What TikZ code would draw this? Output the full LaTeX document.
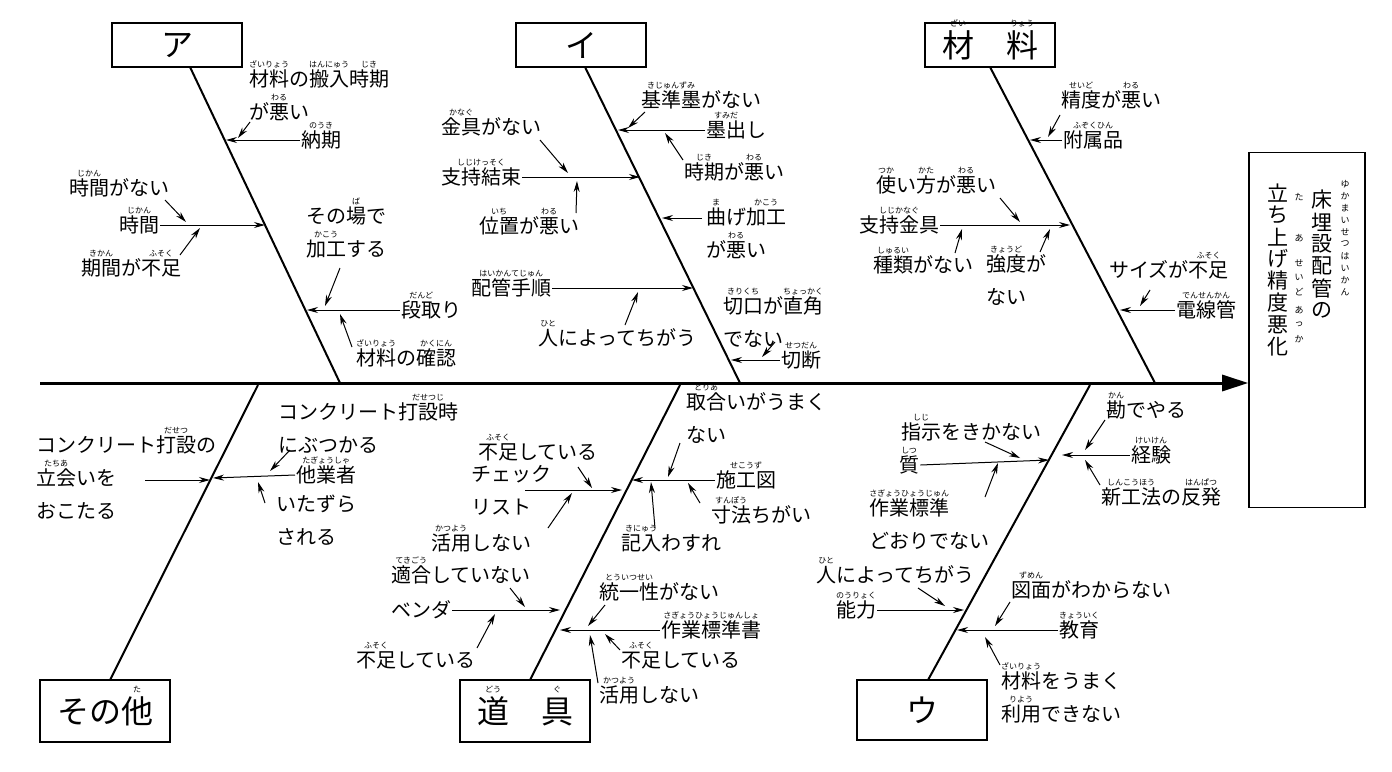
\documentclass[tikz,border=0pt]{standalone}
\usepackage{fontspec}
\setmainfont{Noto Sans CJK JP}
\usetikzlibrary{arrows.meta}
\newcommand\rubyfont{\fontsize{8}{8}\selectfont}
\newcommand\furi[2]{\leavevmode\setbox0\hbox{#1}\hbox to\wd0{\hss\smash{\raisebox{0.95em}{\rubyfont #2}}\hss}\kern-\wd0\box0}
\begin{document}
\begin{tikzpicture}[x=1pt,y=-1pt,
    lbl/.style={font=\fontsize{20}{33}\selectfont,inner sep=1pt,align=left,anchor=west},
    cat/.style={draw,line width=1.6pt,minimum width=130pt,minimum height=44pt,font=\fontsize{32}{34}\selectfont},
    bone/.style={line width=2pt},
    sub/.style={-{Stealth[length=11pt,width=6pt]},line width=1pt},
    chr/.style={font=\fontsize{21}{21}\selectfont,inner sep=0pt},
    rch/.style={font=\fontsize{9}{9}\selectfont,inner sep=0pt}]
\useasboundingbox (0,0) rectangle (1392,771);

% Effect and spine
\node[draw,line width=1.6pt,minimum width=116pt,minimum height=355pt] (effect) at (1307,330) {};
\foreach \c [count=\i] in {床,埋,設,配,管,の}
    \node[chr] (r\i) at (1322,178+\i*22) {\c};
\foreach \c [count=\i] in {立,ち,上,げ,精,度,悪,化}
    \node[chr] (l\i) at (1278,171+\i*22) {\c};
\foreach \c [count=\i] in {ゆ,か,ま,い,せ,つ,は,い,か,ん}
    \node[rch] at (1345,172+\i*12) {\c};
\foreach \c/\y in {た/197,あ/238,せ/263,い/277,ど/292,あ/310,っ/324,か/339}
    \node[rch] at (1299,\y) {\c};
\coordinate (tail) at (40,383);
\draw[line width=3pt,-{Triangle[length=26pt,width=16pt]}] (tail) -- (effect.west |- tail);

% Categories
\node[cat] (A) at (177,45) {ア};
\node[cat] (I) at (581,45) {イ};
\node[cat] (M) at (990,45) {\furi{材}{ざい}\quad\furi{料}{りょう}};
\node[cat,minimum height=62pt] (O) at (105,711) {その\furi{他}{た}};
\node[cat,minimum height=62pt] (D) at (525,711) {\furi{道}{どう}\quad\furi{具}{ぐ}};
\node[cat,minimum height=60pt] (U) at (922,710) {ウ};
\coordinate (aE) at (340,383);
\coordinate (iE) at (740,383);
\coordinate (mE) at (1155,383);
\coordinate (oE) at (258,385);
\coordinate (dE) at (680,385);
\coordinate (uE) at (1090,385);
\draw[bone] (190,67) -- (aE);
\draw[bone] (585,67) -- (iE);
\draw[bone] (990,67) -- (mE);
\draw[bone] (110,680) -- (oE);
\draw[bone] (530,680) -- (dE);
\draw[bone] (928,680) -- (uE);

% Group A
\node[lbl] (aL1) at (248,95) {\furi{材料}{ざいりょう}の\furi{搬入}{はんにゅう}\furi{時期}{じき}\\が\furi{悪}{わる}い};
\node[lbl] (aL2) at (300,140) {\furi{納期}{のうき}};
\node[lbl] (aL3) at (68,188) {\furi{時間}{じかん}がない};
\node[lbl] (aL4) at (118,225) {\furi{時間}{じかん}};
\node[lbl] (aL5) at (80,268) {\furi{期間}{きかん}が\furi{不足}{ふそく}};
\node[lbl] (aL6) at (305,232) {その\furi{場}{ば}で\\\furi{加工}{かこう}する};
\node[lbl] (aL7) at (400,310) {\furi{段取}{だんど}り};
\node[lbl] (aL8) at (355,358) {\furi{材料}{ざいりょう}の\furi{確認}{かくにん}};
\draw[sub] (aL2.west) -- (226,140);
\draw[sub] (250,122) -- (238,138);
\draw[sub] (aL4.east) -- (265,225);
\draw[sub] (165,200) -- (186,222);
\draw[sub] (180,255) -- (200,228);
\draw[sub] (aL7.west) -- (307,310);
\draw[sub] (340,268) -- (325,306);
\draw[sub] (352,347) -- (340,314);

% Group I
\node[lbl] (iL1) at (640,100) {\furi{基準墨}{きじゅんずみ}がない};
\node[lbl] (iL2) at (705,130) {\furi{墨出}{すみだ}し};
\node[lbl] (iL3) at (683,172) {\furi{時期}{じき}が\furi{悪}{わる}い};
\node[lbl] (iL4) at (440,127) {\furi{金具}{かなぐ}がない};
\node[lbl] (iL5) at (440,177) {\furi{支持結束}{しじけっそく}};
\node[lbl] (iL6) at (478,226) {\furi{位置}{いち}が\furi{悪}{わる}い};
\node[lbl] (iL7) at (705,233) {\furi{曲}{ま}げ\furi{加工}{かこう}\\が\furi{悪}{わる}い};
\node[lbl] (iL8) at (470,288) {\furi{配管手順}{はいかんてじゅん}};
\node[lbl] (iL9) at (537,338) {\furi{人}{ひと}によってちがう};
\node[lbl] (iL10) at (722,322) {\furi{切口}{きりくち}が\furi{直角}{ちょっかく}\\でない};
\node[lbl] (iL11) at (780,360) {\furi{切断}{せつだん}};
\draw[sub] (iL2.west) -- (618,130);
\draw[sub] (645,112) -- (628,128);
\draw[sub] (683,160) -- (665,133);
\draw[sub] (iL5.east) -- (640,177);
\draw[sub] (540,140) -- (568,173);
\draw[sub] (576,213) -- (577,181);
\draw[sub] (702,218) -- (662,218);
\draw[sub] (iL8.east) -- (693,288);
\draw[sub] (625,325) -- (638,292);
\draw[sub] (iL11.west) -- (731,360);
\draw[sub] (775,342) -- (762,357);

% Group M
\node[lbl] (mL1) at (1060,100) {\furi{精度}{せいど}が\furi{悪}{わる}い};
\node[lbl] (mL2) at (1062,140) {\furi{附属品}{ふぞくひん}};
\node[lbl] (mL3) at (875,185) {\furi{使}{つか}い\furi{方}{かた}が\furi{悪}{わる}い};
\node[lbl] (mL4) at (858,225) {\furi{支持金具}{しじかなぐ}};
\node[lbl] (mL5) at (872,265) {\furi{種類}{しゅるい}がない};
\node[lbl] (mL6) at (985,280) {\furi{強度}{きょうど}が\\ない};
\node[lbl] (mL7) at (1108,270) {サイズが\furi{不足}{ふそく}};
\node[lbl] (mL8) at (1175,310) {\furi{電線管}{でんせんかん}};
\draw[sub] (mL2.west) -- (1030,140);
\draw[sub] (1060,115) -- (1048,137);
\draw[sub] (mL4.east) -- (1070,225);
\draw[sub] (1000,198) -- (1020,222);
\draw[sub] (955,253) -- (962,229);
\draw[sub] (1040,252) -- (1050,229);
\draw[sub] (mL8.west) -- (1120,310);
\draw[sub] (1150,290) -- (1140,306);

% Group O
\node[lbl] (oL1) at (277,428) {コンクリート\furi{打設時}{だせつじ}\\にぶつかる};
\node[lbl] (oL2) at (295,475) {\furi{他業者}{たぎょうしゃ}};
\node[lbl] (oL3) at (275,520) {いたずら\\される};
\node[lbl] (oL4) at (35,478) {コンクリート\furi{打設}{だせつ}の\\\furi{立会}{たちあ}いを\\おこたる};
\draw[sub] (oL2.west) -- (213,478);
\draw[sub] (145,480) -- (210,480);
\draw[sub] (290,450) -- (270,471);
\draw[sub] (265,503) -- (258,482);

% Group D
\node[lbl] (dL1) at (685,418) {\furi{取合}{とりあ}いがうまく\\ない};
\node[lbl] (dL2) at (715,480) {\furi{施工図}{せこうず}};
\node[lbl] (dL3) at (710,515) {\furi{寸法}{すんぽう}ちがい};
\node[lbl] (dL4) at (620,543) {\furi{記入}{きにゅう}わすれ};
\node[lbl] (dL5) at (477,452) {\furi{不足}{ふそく}している};
\node[lbl] (dL6) at (470,490) {チェック\\リスト};
\node[lbl] (dL7) at (430,543) {\furi{活用}{かつよう}しない};
\node[lbl] (dL8) at (390,575) {\furi{適合}{てきごう}していない};
\node[lbl] (dL9) at (390,610) {ベンダ};
\node[lbl] (dL10) at (355,660) {\furi{不足}{ふそく}している};
\node[lbl] (dL11) at (598,592) {\furi{統一性}{とういつせい}がない};
\node[lbl] (dL12) at (660,630) {\furi{作業標準書}{さぎょうひょうじゅんしょ}};
\node[lbl] (dL13) at (620,660) {\furi{不足}{ふそく}している};
\node[lbl] (dL14) at (598,695) {\furi{活用}{かつよう}しない};
\draw[sub] (dL2.west) -- (632,480);
\draw[sub] (680,443) -- (668,477);
\draw[sub] (700,503) -- (688,483);
\draw[sub] (655,528) -- (651,482);
\draw[sub] (525,490) -- (622,490);
\draw[sub] (578,467) -- (592,488);
\draw[sub] (548,528) -- (572,493);
\draw[sub] (dL9.east) -- (560,610);
\draw[sub] (510,588) -- (525,607);
\draw[sub] (477,648) -- (495,614);
\draw[sub] (dL12.west) -- (560,630);
\draw[sub] (605,605) -- (588,626);
\draw[sub] (620,650) -- (605,634);
\draw[sub] (598,683) -- (590,635);

% Group U
\node[lbl] (uL1) at (900,432) {\furi{指示}{しじ}をきかない};
\node[lbl] (uL2) at (898,465) {\furi{質}{しつ}};
\node[lbl] (uL3) at (868,524) {\furi{作業標準}{さぎょうひょうじゅん}\\どおりでない};
\node[lbl] (uL4) at (1105,410) {\furi{勘}{かん}でやる};
\node[lbl] (uL5) at (1130,455) {\furi{経験}{けいけん}};
\node[lbl] (uL6) at (1100,497) {\furi{新工法}{しんこうほう}の\furi{反発}{はんぱつ}};
\node[lbl] (uL7) at (815,575) {\furi{人}{ひと}によってちがう};
\node[lbl] (uL8) at (835,610) {\furi{能力}{のうりょく}};
\node[lbl] (uL9) at (1010,590) {\furi{図面}{ずめん}がわからない};
\node[lbl] (uL10) at (1058,630) {\furi{教育}{きょういく}};
\node[lbl] (uL11) at (1000,697) {\furi{材料}{ざいりょう}をうまく\\\furi{利用}{りよう}できない};
\draw[sub] (uL2.east) -- (1049,460);
\draw[sub] (985,442) -- (1020,458);
\draw[sub] (985,497) -- (998,463);
\draw[sub] (uL5.west) -- (1062,455);
\draw[sub] (1105,420) -- (1085,450);
\draw[sub] (1100,485) -- (1085,460);
\draw[sub] (uL8.east) -- (964,610);
\draw[sub] (918,588) -- (945,606);
\draw[sub] (uL10.west) -- (957,630);
\draw[sub] (1010,602) -- (995,626);
\draw[sub] (1000,665) -- (985,637);
\end{tikzpicture}
\end{document}
